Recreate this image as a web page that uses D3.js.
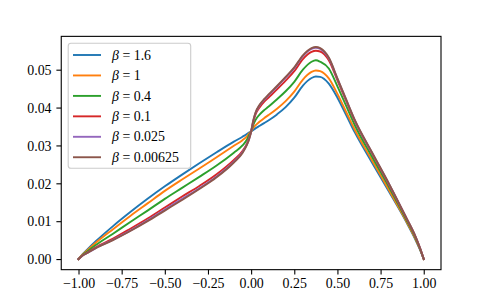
<!DOCTYPE html>
<html>
<head>
<meta charset="utf-8">
<script src="https://cdn.jsdelivr.net/npm/d3@7"></script>
<style>
  body { margin: 0; background: #fff; }
  svg { display: block; }
  text { font-family: 'Liberation Serif', 'Times New Roman', serif; }
</style>
</head>
<body>
<div id="chart"></div>
<script>
'use strict';

// x positions shared by every series
const xs = [-1, -0.98, -0.95, -0.9, -0.8, -0.7, -0.6, -0.5, -0.4, -0.3, -0.2, -0.1, -0.05, -0.025, -0.0125,
    0, 0.0125, 0.025, 0.05, 0.075, 0.1, 0.15, 0.2, 0.25, 0.3, 0.35, 0.375, 0.4, 0.45, 0.5, 0.55, 0.6, 0.7, 0.8, 0.9, 0.95, 0.98, 1];

// one series per beta
const beta16 = [0, 0.0011, 0.0025, 0.0047, 0.0087, 0.0124, 0.0159, 0.0192, 0.0223, 0.0253, 0.0282, 0.0310, 0.0323, 0.0330, 0.0334,
    0.0337, 0.0341, 0.0345, 0.0352, 0.0359, 0.0366, 0.0382, 0.0401, 0.0426, 0.0458, 0.0478, 0.0482, 0.0481, 0.0463, 0.0426, 0.0381, 0.0335, 0.0255, 0.0177, 0.0097, 0.0053, 0.0023, 0];
const beta1 = [0, 0.0010, 0.0023, 0.0043, 0.0079, 0.0114, 0.0147, 0.0180, 0.0210, 0.0239, 0.0269, 0.0299, 0.0314, 0.0324, 0.0331,
    0.0337, 0.0346, 0.0353, 0.0363, 0.0372, 0.0380, 0.0397, 0.0417, 0.0442, 0.0474, 0.0494, 0.0498, 0.0496, 0.0477, 0.0436, 0.0389, 0.0342, 0.0261, 0.0181, 0.0099, 0.0055, 0.0024, 0];
const beta04 = [0, 0.0009, 0.0020, 0.0037, 0.0067, 0.0098, 0.0128, 0.0159, 0.0188, 0.0217, 0.0247, 0.0281, 0.0300, 0.0315, 0.0327,
    0.0337, 0.0354, 0.0367, 0.0382, 0.0393, 0.0402, 0.0422, 0.0443, 0.0468, 0.0500, 0.0521, 0.0525, 0.0521, 0.0503, 0.0456, 0.0405, 0.0354, 0.0270, 0.0189, 0.0103, 0.0058, 0.0025, 0];
const beta01 = [0, 0.0008, 0.0017, 0.0031, 0.0054, 0.0080, 0.0107, 0.0136, 0.0165, 0.0193, 0.0224, 0.0262, 0.0285, 0.0304, 0.0319,
    0.0337, 0.0362, 0.0381, 0.0401, 0.0415, 0.0426, 0.0448, 0.0471, 0.0496, 0.0528, 0.0547, 0.0550, 0.0548, 0.0525, 0.0472, 0.0418, 0.0365, 0.0279, 0.0195, 0.0107, 0.0061, 0.0027, 0];
const beta0025 = [0, 0.0008, 0.0016, 0.0029, 0.0051, 0.0075, 0.0102, 0.0131, 0.0159, 0.0187, 0.0218, 0.0257, 0.0282, 0.0302, 0.0316,
    0.0337, 0.0365, 0.0385, 0.0406, 0.0420, 0.0432, 0.0455, 0.0479, 0.0504, 0.0536, 0.0555, 0.0558, 0.0555, 0.0530, 0.0476, 0.0421, 0.0367, 0.0281, 0.0197, 0.0108, 0.0062, 0.0027, 0];
const beta000625 = [0, 0.0008, 0.0016, 0.0029, 0.0050, 0.0074, 0.0100, 0.0128, 0.0156, 0.0185, 0.0216, 0.0255, 0.0280, 0.0301, 0.0315,
    0.0337, 0.0366, 0.0386, 0.0408, 0.0422, 0.0434, 0.0457, 0.0481, 0.0506, 0.0538, 0.0557, 0.0560, 0.0557, 0.0532, 0.0477, 0.0422, 0.0368, 0.0282, 0.0198, 0.0108, 0.0062, 0.0027, 0];

const betaLabels = ['1.6', '1', '0.4', '0.1', '0.025', '0.00625'];
const seriesValues = [beta16, beta1, beta04, beta01, beta0025, beta000625];
const colors = ['#1f77b4', '#ff7f0e', '#2ca02c', '#d62728', '#9467bd', '#8c564b'];

const xTicks = [-1, -0.75, -0.5, -0.25, 0, 0.25, 0.5, 0.75, 1];
const yTicks = [0, 0.01, 0.02, 0.03, 0.04, 0.05];

const W = 490, H = 303;
const plotL = 61.25, plotR = 441, plotT = 36.36, plotB = 269.67;
const FS = 13.9;

const svg = d3.select('#chart').append('svg')
    .attr('width', W)
    .attr('height', H);

// matplotlib-style 5% margins
const xExt = d3.extent(xs);
const yMax = d3.max(seriesValues, s => d3.max(s));
const xPad = (xExt[1] - xExt[0]) * 0.05;
const yPad = yMax * 0.05;

const x = d3.scaleLinear().domain([xExt[0] - xPad, xExt[1] + xPad]).range([plotL, plotR]);
const y = d3.scaleLinear().domain([-yPad, yMax + yPad]).range([plotB, plotT]);

const fmtMinus = d => d3.format('.2f')(d).replace('-', '\u2212');

// axes
const xAxis = svg.append('g')
    .attr('transform', `translate(0,${plotB})`)
    .call(d3.axisBottom(x).tickValues(xTicks).tickSize(4.86).tickPadding(4.86).tickFormat(fmtMinus));
const yAxis = svg.append('g')
    .attr('transform', `translate(${plotL},0)`)
    .call(d3.axisLeft(y).tickValues(yTicks).tickSize(4.86).tickPadding(4.86).tickFormat(d3.format('.2f')));

[xAxis, yAxis].forEach(g => {
    g.select('.domain').remove();
    g.selectAll('line').attr('stroke', '#000').attr('stroke-width', 1.1);
    g.selectAll('text')
        .attr('fill', '#000')
        .attr('font-size', FS)
        .attr('font-family', "'Liberation Serif', serif");
});
xAxis.selectAll('text').attr('dy', null).attr('y', 18.8);
yAxis.selectAll('text').attr('dy', '0.34em');

// curves
const line = d3.line()
    .x((d, i) => x(xs[i]))
    .y(d => y(d))
    .curve(d3.curveMonotoneX);

svg.append('g')
    .selectAll('path')
    .data(seriesValues)
    .join('path')
    .attr('d', d => line(d))
    .attr('fill', 'none')
    .attr('stroke', (d, i) => colors[i])
    .attr('stroke-width', 1.9)
    .attr('stroke-linejoin', 'round')
    .attr('stroke-linecap', 'square');

// frame
svg.append('rect')
    .attr('x', plotL)
    .attr('y', plotT)
    .attr('width', plotR - plotL)
    .attr('height', plotB - plotT)
    .attr('fill', 'none')
    .attr('stroke', '#000')
    .attr('stroke-width', 1.1);

// legend
const legend = svg.append('g');
legend.append('rect')
    .attr('x', 68.2)
    .attr('y', 43.3)
    .attr('width', 122.5)
    .attr('height', 125)
    .attr('rx', 2.8)
    .attr('fill', 'rgba(255,255,255,0.8)')
    .attr('stroke', '#cccccc')
    .attr('stroke-width', 1.1);

const rows = legend.selectAll('g.row')
    .data(betaLabels)
    .join('g')
    .attr('class', 'row')
    .attr('transform', (d, i) => `translate(0,${55 + i * 20.45})`);

rows.append('line')
    .attr('x1', 73)
    .attr('x2', 101)
    .attr('stroke', (d, i) => colors[i])
    .attr('stroke-width', 1.9);

const lbl = rows.append('text')
    .attr('x', 112)
    .attr('y', 4.6)
    .attr('font-size', FS)
    .attr('fill', '#000');
lbl.append('tspan').attr('font-style', 'italic').text('\u03b2');
lbl.append('tspan').text(d => ' = ' + d);
</script>
</body>
</html>
